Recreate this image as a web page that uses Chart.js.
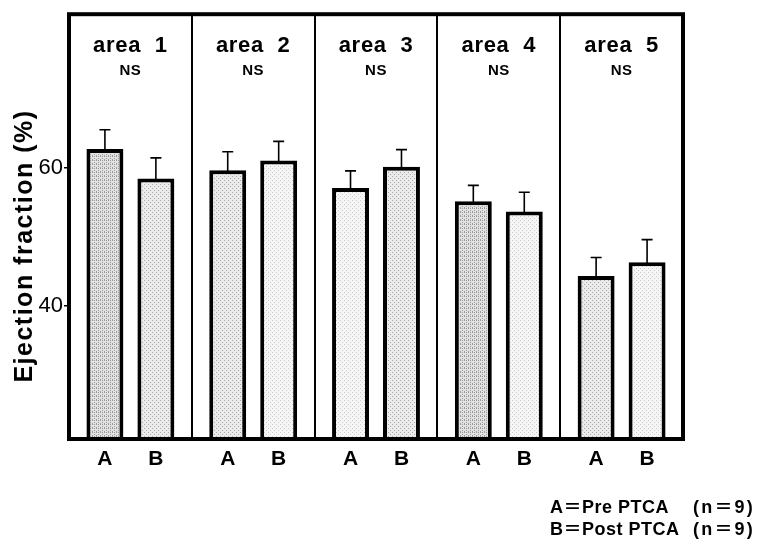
<!DOCTYPE html>
<html>
<head>
<meta charset="utf-8">
<script src="https://cdn.jsdelivr.net/npm/chart.js@4/dist/chart.umd.min.js"></script>
<style>
  html, body { margin: 0; padding: 0; background: #fff; }
  #c { display: block; }
</style>
</head>
<body>
<canvas id="c" width="758" height="555"></canvas>
<script>
// Regional ejection fraction, before (A) and after (B) PTCA
const areas = ['area  1', 'area  2', 'area  3', 'area  4', 'area  5'];
const significance = ['NS', 'NS', 'NS', 'NS', 'NS'];
const preMean  = [62.8, 59.7, 57.1, 55.2, 44.3];
const preSD    = [2.8, 2.7, 2.5, 2.3, 2.7];
const postMean = [58.5, 61.1, 60.2, 53.7, 46.3];
const postSD   = [3.0, 2.8, 2.5, 2.8, 3.3];
const groupLabels = ['A', 'B'];
const legendLines = [['A\uFF1DPre PTCA', '(n\uFF1D9)'], ['B\uFF1DPost PTCA', '(n\uFF1D9)']];
const yTickValues = [40, 60];
const yTitle = 'Ejection fraction (%)';

const canvas = document.getElementById('c');
const ctx = canvas.getContext('2d');

// dotted grey fill, like a halftone screen
function stipple(base, dot, dense) {
  const t = document.createElement('canvas');
  t.width = 4; t.height = 4;
  const g = t.getContext('2d');
  g.fillStyle = base; g.fillRect(0, 0, 4, 4);
  g.fillStyle = dot;
  g.fillRect(0, 0, 1, 1); g.fillRect(2, 2, 1, 1);
  if (dense) { g.fillRect(2, 0, 1, 1); g.fillRect(0, 3, 1, 1); }
  return ctx.createPattern(t, 'repeat');
}
const darkFill  = stipple('#e2e2e2', '#9a9a9a', true);
const midFill   = stipple('#ebebeb', '#a8a8a8', false);
const lightFill = stipple('#f6f6f6', '#c8c8c8', false);
const preFills  = [darkFill, midFill, lightFill, darkFill, midFill];
const postFills = [midFill, lightFill, midFill, lightFill, lightFill];

const SANS = '"Liberation Sans", Arial, Helvetica, sans-serif';

function spaced(c, px) { if ('letterSpacing' in c) c.letterSpacing = px + 'px'; }

const decorations = {
  id: 'decorations',
  afterDatasetsDraw(chart) {
    const c = chart.ctx;
    const area = chart.chartArea;
    const x = chart.scales.x, y = chart.scales.y;
    c.save();

    // error bars (mean + SD)
    const sds = [preSD, postSD];
    chart.data.datasets.forEach((ds, i) => {
      chart.getDatasetMeta(i).data.forEach((bar, j) => {
        const top = y.getPixelForValue(ds.data[j] + sds[i][j]);
        const base = y.getPixelForValue(ds.data[j]);
        c.strokeStyle = '#000';
        c.lineWidth = 1.6;
        c.beginPath();
        c.moveTo(bar.x, base + 2);
        c.lineTo(bar.x, top);
        c.moveTo(bar.x - 5.5, top);
        c.lineTo(bar.x + 5.5, top);
        c.stroke();
      });
    });

    // heavy frame around the plot
    c.lineWidth = 4;
    c.strokeStyle = '#000';
    c.strokeRect(area.left, area.top, area.right - area.left, area.bottom - area.top);

    // panel headings
    c.fillStyle = '#000';
    c.textAlign = 'center';
    c.textBaseline = 'alphabetic';
    areas.forEach((name, i) => {
      const cx = x.getPixelForValue(i);
      spaced(c, 0.7);
      c.font = 'bold 22px ' + SANS;
      c.fillText(name, cx, area.top + 38);
      spaced(c, 0.5);
      c.font = 'bold 15px ' + SANS;
      c.fillText(significance[i], cx, area.top + 61);
    });

    // A / B under each bar
    spaced(c, 0);
    c.font = 'bold 21px ' + SANS;
    chart.data.datasets.forEach((ds, i) => {
      chart.getDatasetMeta(i).data.forEach(bar => {
        c.fillText(groupLabels[i], bar.x, area.bottom + 26);
      });
    });

    // y-axis title
    c.save();
    c.translate(32, 246);
    c.rotate(-Math.PI / 2);
    spaced(c, 1.5);
    c.font = 'bold 25px ' + SANS;
    c.textAlign = 'center';
    c.fillText(yTitle, 0, 0);
    c.restore();

    // key
    c.font = 'bold 18px ' + SANS + ', "Noto Sans CJK JP"';
    legendLines.forEach((ln, k) => {
      const by = 513 + k * 22;
      spaced(c, 0.5);
      c.textAlign = 'left';
      c.fillText(ln[0], 550, by);
      spaced(c, 2.2);
      c.textAlign = 'right';
      c.fillText(ln[1], 755, by);
    });
    c.restore();
  }
};

new Chart(ctx, {
  type: 'bar',
  data: {
    labels: areas,
    datasets: [
      { label: 'Pre PTCA', data: preMean, backgroundColor: preFills,
        borderColor: '#000', borderWidth: 4,
        categoryPercentage: 0.83, barPercentage: 0.725 },
      { label: 'Post PTCA', data: postMean, backgroundColor: postFills,
        borderColor: '#000', borderWidth: 4,
        categoryPercentage: 0.83, barPercentage: 0.725 }
    ]
  },
  options: {
    responsive: false,
    animation: false,
    devicePixelRatio: 1,
    layout: { padding: { top: 8, right: 75, bottom: 116, left: 0 } },
    plugins: { legend: { display: false }, tooltip: { enabled: false } },
    scales: {
      x: {
        type: 'category',
        offset: true,
        grid: { offset: true, color: '#000', lineWidth: 2, drawTicks: false },
        border: { display: false },
        ticks: { display: false },
        afterFit(s) { s.height = 0; }
      },
      y: {
        min: 20.6,
        max: 82.4,
        afterBuildTicks(s) { s.ticks = yTickValues.map(v => ({ value: v })); },
        afterFit(s) { s.width = 69; },
        grid: { drawOnChartArea: false, color: '#000', lineWidth: 1.5, tickLength: 5 },
        border: { display: false },
        ticks: { color: '#000', padding: 1, font: { family: SANS, size: 22 } }
      }
    }
  },
  plugins: [decorations]
});
</script>
</body>
</html>
